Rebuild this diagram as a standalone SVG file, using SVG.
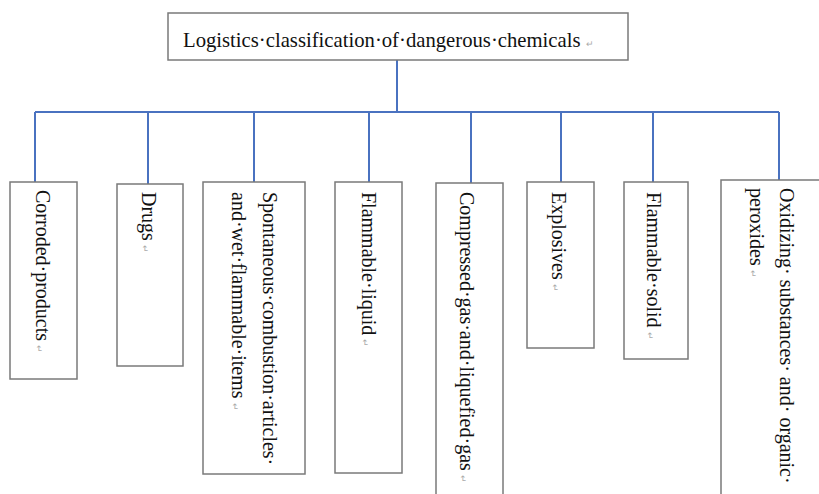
<svg xmlns="http://www.w3.org/2000/svg" width="819" height="494" viewBox="0 0 819 494">
<style>
.box{fill:#fff;stroke:#7a7a7a;stroke-width:1.5}
.lbl{font-family:"Liberation Serif","Times New Roman",serif;font-size:20px;fill:#111}
.title{font-size:20.7px}
.pm{font-size:9px;fill:#aaa}
.con{fill:none;stroke:#4a72c0;stroke-width:2}
</style>
<rect width="819" height="494" fill="#fff"/>
<g id="connectors">
<path class="con" d="M397 60V112M35 112H779M35 112V182M148 112V184M254 112V182M369 112V182M471 112V183M561 112V182M653 112V182M779 112V180"/>
</g>
<g id="root">
<rect class="box" x="168" y="13" width="460" height="47"/>
<text class="lbl title" x="183" y="47">Logistics·classification·of·dangerous·chemicals<tspan class="pm" dx="5">↵</tspan></text>
</g>
<g id="corroded">
<rect class="box" x="10" y="182" width="67" height="197"/>
<text class="lbl" transform="translate(36 190) rotate(90)">Corroded·products<tspan class="pm" dx="4">↵</tspan></text>
</g>
<g id="drugs">
<rect class="box" x="117" y="184" width="66" height="182"/>
<text class="lbl" transform="translate(142 192) rotate(90)">Drugs<tspan class="pm" dx="4">↵</tspan></text>
</g>
<g id="spontaneous">
<rect class="box" x="203" y="182" width="102" height="292"/>
<text class="lbl" transform="translate(263 192) rotate(90)">Spontaneous·combustion·articles·<tspan x="0" dy="31">and·wet·flammable·items</tspan><tspan class="pm" dx="4">↵</tspan></text>
</g>
<g id="flammable-liquid">
<rect class="box" x="335" y="182" width="67" height="291"/>
<text class="lbl" transform="translate(362 192) rotate(90)">Flammable·liquid<tspan class="pm" dx="4">↵</tspan></text>
</g>
<g id="compressed">
<rect class="box" x="436" y="183" width="67" height="320"/>
<text class="lbl" transform="translate(460 192) rotate(90)">Compressed·gas·and·liquefied·gas<tspan class="pm" dx="4">↵</tspan></text>
</g>
<g id="explosives">
<rect class="box" x="527" y="182" width="67" height="166"/>
<text class="lbl" transform="translate(552 192) rotate(90)">Explosives<tspan class="pm" dx="4">↵</tspan></text>
</g>
<g id="flammable-solid">
<rect class="box" x="624" y="182" width="64" height="177"/>
<text class="lbl" transform="translate(647 192) rotate(90)">Flammable·solid<tspan class="pm" dx="4">↵</tspan></text>
</g>
<g id="oxidizing">
<rect class="box" x="721" y="180" width="120" height="330"/>
<text class="lbl" transform="translate(780 188) rotate(90)">Oxidizing·  substances·  and·  organic·<tspan x="0" dy="30">peroxides</tspan><tspan class="pm" dx="4">↵</tspan></text>
</g>
</svg>
